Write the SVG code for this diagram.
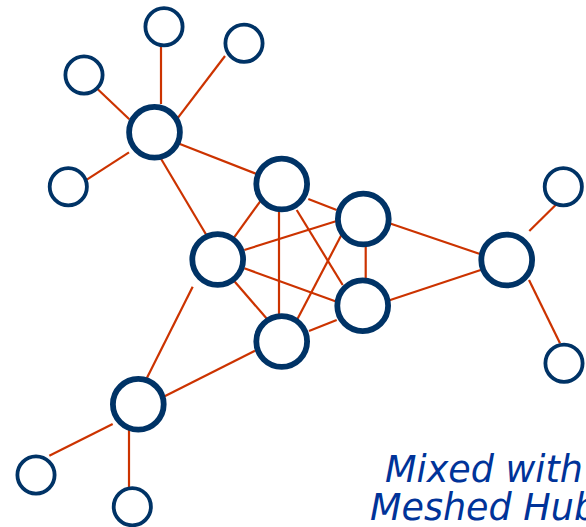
<svg xmlns="http://www.w3.org/2000/svg" width="586" height="527" viewBox="0 0 586 527">
  <style>
    .edge { stroke: #cc3300; stroke-width: 2.2; fill: none; stroke-linecap: butt; }
    .hub { fill: #ffffff; stroke: #003366; stroke-width: 5.8; }
    .leaf { fill: #ffffff; stroke: #003366; stroke-width: 3.8; }
    .label { font-family: "DejaVu Sans", Verdana, sans-serif; font-style: italic; font-size: 36.5px; fill: #003399; }
  </style>
  <rect width="586" height="527" fill="#ffffff"/>

  <!-- links between routers -->
  <g id="connectors">
    <line class="edge" x1="161" y1="40" x2="161" y2="104"/>
    <line class="edge" x1="225" y1="56" x2="176.7" y2="119.3"/>
    <line class="edge" x1="96.7" y1="88.3" x2="129.3" y2="119.3"/>
    <line class="edge" x1="81" y1="183.3" x2="129" y2="152.3"/>
    <line class="edge" x1="176.7" y1="142.7" x2="256.7" y2="174"/>
    <line class="edge" x1="160.7" y1="158.3" x2="208.3" y2="238.3"/>
    <line class="edge" x1="261.7" y1="199.3" x2="232.7" y2="239.3"/>
    <line class="edge" x1="279" y1="211" x2="279" y2="314.3"/>
    <line class="edge" x1="308.3" y1="199" x2="336.7" y2="210"/>
    <line class="edge" x1="296.7" y1="210" x2="342.7" y2="285"/>
    <line class="edge" x1="244.3" y1="250" x2="336.7" y2="221"/>
    <line class="edge" x1="244.3" y1="268.3" x2="336.7" y2="301.7"/>
    <line class="edge" x1="233.3" y1="280" x2="267.3" y2="319.3"/>
    <line class="edge" x1="342.3" y1="233.3" x2="297.3" y2="319.3"/>
    <line class="edge" x1="365.7" y1="245.7" x2="365.7" y2="278.3"/>
    <line class="edge" x1="336.7" y1="320" x2="309" y2="331"/>
    <line class="edge" x1="255" y1="350.7" x2="161.7" y2="397.7"/>
    <line class="edge" x1="385" y1="221.7" x2="480.7" y2="254.3"/>
    <line class="edge" x1="385" y1="301.7" x2="480.7" y2="270"/>
    <line class="edge" x1="192.7" y1="286.7" x2="145" y2="381.7"/>
    <line class="edge" x1="529.3" y1="231" x2="560.7" y2="200"/>
    <line class="edge" x1="529" y1="280" x2="560" y2="343.3"/>
    <line class="edge" x1="49.3" y1="455.7" x2="112.7" y2="424"/>
    <line class="edge" x1="129" y1="424.3" x2="129" y2="487.3"/>
  </g>

  <!-- hub routers -->
  <g id="hub-1"><circle class="hub" cx="154.5" cy="132.3" r="25.4"/></g>
  <g id="hub-2"><circle class="hub" cx="281.7" cy="184" r="25.4"/></g>
  <g id="hub-3"><circle class="hub" cx="363.3" cy="219" r="25.4"/></g>
  <g id="hub-4"><circle class="hub" cx="217.7" cy="259.5" r="25.4"/></g>
  <g id="hub-5"><circle class="hub" cx="362.7" cy="305.7" r="25.4"/></g>
  <g id="hub-6"><circle class="hub" cx="281.7" cy="341.5" r="25.4"/></g>
  <g id="hub-7"><circle class="hub" cx="506.7" cy="260" r="25.4"/></g>
  <g id="hub-8"><circle class="hub" cx="138.3" cy="404.3" r="25.4"/></g>

  <!-- spoke sites -->
  <g id="site-1"><circle class="leaf" cx="164" cy="26.7" r="18.6"/></g>
  <g id="site-2"><circle class="leaf" cx="244" cy="43.3" r="18.6"/></g>
  <g id="site-3"><circle class="leaf" cx="84" cy="75" r="18.6"/></g>
  <g id="site-4"><circle class="leaf" cx="68.3" cy="186.7" r="18.6"/></g>
  <g id="site-5"><circle class="leaf" cx="563.3" cy="186.7" r="18.6"/></g>
  <g id="site-6"><circle class="leaf" cx="564" cy="363.3" r="18.6"/></g>
  <g id="site-7"><circle class="leaf" cx="36" cy="475" r="18.6"/></g>
  <g id="site-8"><circle class="leaf" cx="132.3" cy="506.7" r="18.6"/></g>

  <g id="caption">
    <text class="label" x="385" y="482">Mixed with</text>
    <text class="label" x="370" y="520">Meshed Hub</text>
  </g>
</svg>
